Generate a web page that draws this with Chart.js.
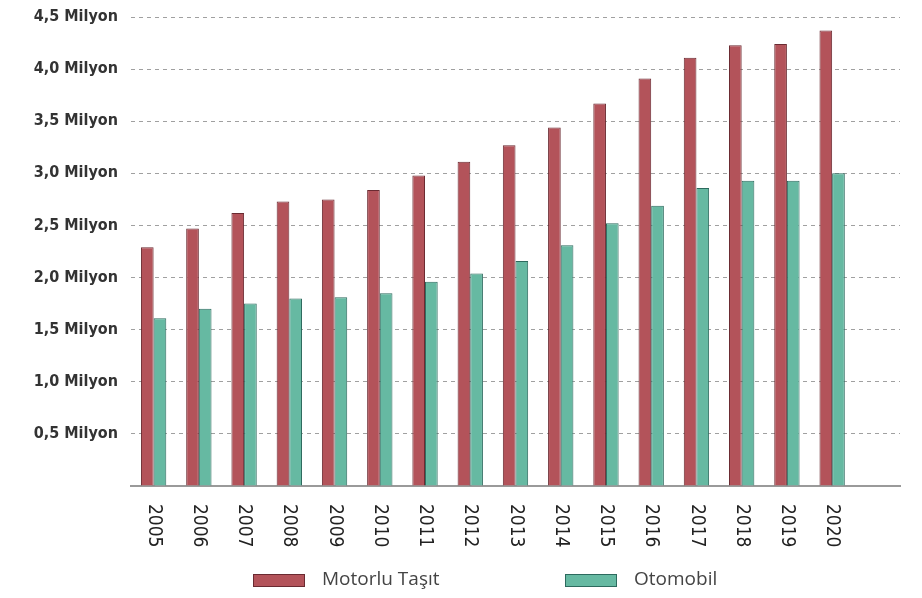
<!DOCTYPE html>
<html lang="tr">
<head>
<meta charset="UTF-8">
<title>Motorlu Taşıt ve Otomobil</title>
<script src="https://cdn.jsdelivr.net/npm/chart.js"></script>
<style>
  html, body { margin: 0; padding: 0; background: #fff; }
  #wrap { width: 922px; height: 598px; position: relative; }
</style>
</head>
<body>
<div id="wrap"><canvas id="tasitChart"></canvas></div>
<script>
// ======= Veriler (milyon) =======
const yillar = ['2005','2006','2007','2008','2009','2010','2011','2012','2013','2014','2015','2016','2017','2018','2019','2020'];
const motorluTasit = [2.29, 2.47, 2.62, 2.73, 2.75, 2.84, 2.98, 3.11, 3.27, 3.44, 3.67, 3.91, 4.11, 4.23, 4.24, 4.37];
const otomobil = [1.61, 1.70, 1.75, 1.80, 1.81, 1.85, 1.96, 2.04, 2.16, 2.31, 2.52, 2.69, 2.86, 2.93, 2.93, 3.00];
const yTicks = [0, 0.5, 1.0, 1.5, 2.0, 2.5, 3.0, 3.5, 4.0, 4.5];

const milyonEtiket = v => v === 0 ? '' : v.toFixed(1).replace('.', ',') + ' Milyon';

// dar (condensed) yazı ile eksen etiketleri
const eksenEtiketleri = {
    id: 'eksenEtiketleri',
    afterDraw(chart) {
        const ctx = chart.ctx;
        const x = chart.scales.x;
        const y = chart.scales.y;
        ctx.save();
        // y ekseni
        ctx.font = "bold 16px 'DejaVu Sans'";
        ctx.fontStretch = 'condensed';
        ctx.fillStyle = '#333';
        ctx.textAlign = 'right';
        ctx.textBaseline = 'middle';
        y.ticks.forEach(t => {
            const txt = milyonEtiket(t.value);
            if (txt) ctx.fillText(txt, chart.chartArea.left - 13, y.getPixelForValue(t.value));
        });
        // x ekseni: saat yönünde döndürülmüş
        ctx.font = "19px 'DejaVu Sans'";
        ctx.fontStretch = 'condensed';
        ctx.fillStyle = '#222';
        ctx.textAlign = 'left';
        yillar.forEach((yil, i) => {
            ctx.save();
            ctx.translate(x.getPixelForValue(i), 504);
            ctx.rotate(Math.PI / 2);
            ctx.fillText(yil, 0, 0);
            ctx.restore();
        });
        ctx.restore();
    }
};

// alt açıklama
const aciklama = {
    id: 'aciklama',
    afterDraw(chart) {
        const ctx = chart.ctx;
        const konumlar = [253, 565];
        ctx.save();
        ctx.font = "19px 'Open Sans', sans-serif";
        ctx.textBaseline = 'middle';
        chart.data.datasets.forEach((ds, i) => {
            const x0 = konumlar[i];
            ctx.fillStyle = ds.backgroundColor;
            ctx.fillRect(x0, 574, 52, 13);
            ctx.strokeStyle = ds.borderColor;
            ctx.lineWidth = 1;
            ctx.strokeRect(x0 + 0.5, 574.5, 51, 12);
            ctx.fillStyle = '#444';
            ctx.fillText(ds.label, x0 + 69, 580);
        });
        ctx.restore();
    }
};

new Chart(document.getElementById('tasitChart'), {
    type: 'bar',
    data: {
        labels: [...yillar, ''],
        datasets: [
            {
                label: 'Motorlu Taşıt',
                data: motorluTasit,
                backgroundColor: '#b3535a',
                borderColor: '#6a2a31',
                borderWidth: { top: 1, left: 1, right: 1, bottom: 0 },
                borderSkipped: false
            },
            {
                label: 'Otomobil',
                data: otomobil,
                backgroundColor: '#66b9a2',
                borderColor: '#2d6a5e',
                borderWidth: { top: 1, left: 1, right: 1, bottom: 0 },
                borderSkipped: false
            }
        ]
    },
    options: {
        responsive: true,
        maintainAspectRatio: false,
        animation: false,
        barPercentage: 1,
        categoryPercentage: 0.56,
        layout: { padding: { top: 17, right: 22, left: 0, bottom: 0 } },
        plugins: {
            legend: { display: false },
            tooltip: { enabled: false }
        },
        scales: {
            x: {
                grid: { display: false },
                border: { display: true, color: '#9a9a9a', width: 2 },
                ticks: { display: false },
                afterFit(scale) { scale.height = 112; }
            },
            y: {
                min: 0,
                max: 4.5,
                afterBuildTicks(scale) { scale.ticks = yTicks.map(v => ({ value: v })); },
                afterFit(scale) { scale.width = 131; },
                border: { display: false, dash: [4, 4] },
                grid: {
                    drawTicks: false,
                    color: ctx => ctx.tick && ctx.tick.value === 0 ? 'rgba(0,0,0,0)' : '#a0a0a0',
                    lineWidth: 1
                },
                ticks: { display: false }
            }
        }
    },
    plugins: [eksenEtiketleri, aciklama]
});
</script>
</body>
</html>
